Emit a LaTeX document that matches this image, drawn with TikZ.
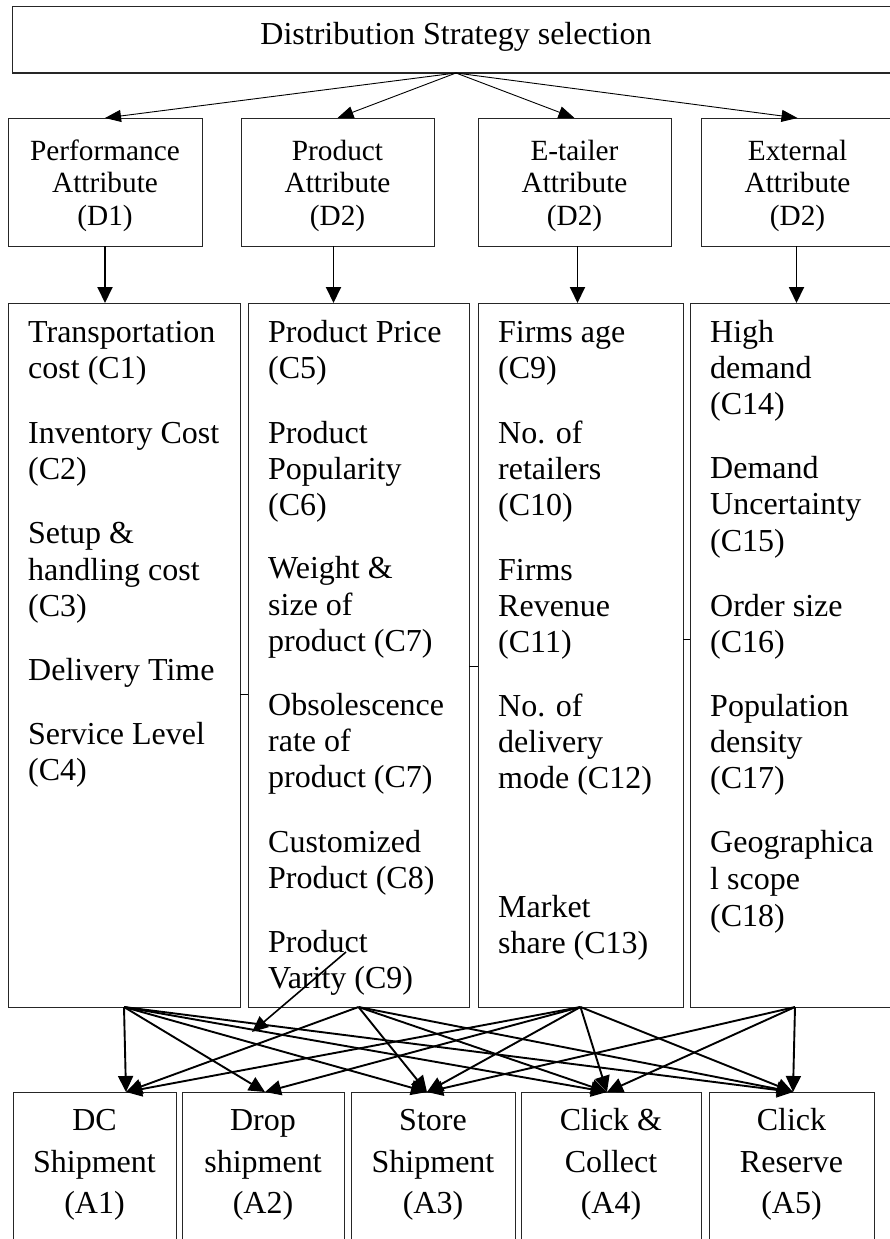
\documentclass[tikz,border=0pt]{standalone}
\usepackage{fontspec}
\setmainfont{Liberation Serif}
\usetikzlibrary{arrows.meta}
\begin{document}
\begin{tikzpicture}[x=1pt,y=-1pt,
  box/.style={draw=black!85, line width=1pt, inner sep=0pt, outer sep=0pt},
  ctext/.style={inner sep=0pt, anchor=base west, font=\fontsize{32}{36}\selectfont},
  dtext/.style={inner sep=0pt, anchor=base, font=\fontsize{29.3}{32}\selectfont},
  atext/.style={inner sep=0pt, anchor=base, font=\fontsize{32}{36}\selectfont},
  thinarrow/.style={line width=0.9pt, -{Triangle[length=16pt,width=12pt]}},
  thickarrow/.style={line width=1.9pt, -{Triangle[length=16pt,width=15pt]}}
]
\useasboundingbox (0,0) rectangle (890,1239);
\fill[white] (0,0) rectangle (890,1239);

% goal
\node[box, minimum width=888pt, minimum height=66pt] (goal) at (456,40) {};
\node[inner sep=0pt, anchor=base, font=\fontsize{32}{36}\selectfont] (goaltxt) at (456,45) {Distribution Strategy selection};

% dimensions
\node[box, minimum width=194pt, minimum height=128pt] (D1) at (105,182) {};
\node[box, minimum width=193pt, minimum height=128pt] (D2) at (337.5,182) {};
\node[box, minimum width=193pt, minimum height=128pt] (D3) at (574.5,182) {};
\node[box, minimum width=193pt, minimum height=128pt] (D4) at (797.5,182) {};

\foreach \x/\a/\b/\c [count=\i] in {105/Performance/Attribute/(D1), 337.5/Product/Attribute/(D2), 574.5/E-tailer/Attribute/(D2), 797.5/External/Attribute/(D2)}{
  \node[dtext] (dta\i) at (\x,160) {\a};
  \node[dtext] (dtb\i) at (\x,192.5) {\b};
  \node[dtext] (dtc\i) at (\x,225) {\c};
}

% criteria columns
\node[box, minimum width=232pt, minimum height=704pt] (C1) at (124,655) {};
\node[box, minimum width=221pt, minimum height=704pt] (C2) at (358.5,655) {};
\node[box, minimum width=205pt, minimum height=704pt] (C3) at (580.5,655) {};
\node[box, minimum width=210pt, minimum height=704pt] (C4) at (795,655) {};

\foreach \y/\t [count=\i] in {342/Transportation, 378/cost (C1), 443/Inventory Cost, 479/(C2), 543/Setup \&, 580/handling cost, 616/(C3), 680/Delivery Time, 744/Service Level, 780/(C4)}
  \node[ctext] (ca\i) at (28,\y) {\t};

\foreach \y/\t [count=\i] in {342/Product Price, 378/(C5), 443/Product, 479/Popularity, 515/(C6), 578/Weight \&, 615/size of, 651/product (C7), 715/Obsolescence, 751/rate of, 787/product (C7), 852/Customized, 888/Product (C8), 952/Product, 988/Varity (C9)}
  \node[ctext] (cb\i) at (268,\y) {\t};

\foreach \y/\t [count=\i] in {342/Firms age, 378/(C9), 443/No. of, 479/retailers, 515/(C10), 580/Firms, 616/Revenue, 652/(C11), 716/No. of, 752/delivery, 788/mode (C12), 917/Market, 953/share (C13)}
  \node[ctext] (cc\i) at (498,\y) {\t};

\foreach \y/\t [count=\i] in {342/High, 378/demand, 414/(C14), 478/Demand, 514/Uncertainty, 551/(C15), 616/Order size, 652/(C16), 716/Population, 752/density, 788/(C17), 852/Geographica, 889/l scope, 926/(C18)}
  \node[ctext] (cd\i) at (710,\y) {\t};

% alternatives
\node[box, minimum width=163pt, minimum height=158pt] (A1) at (94.5,1171) {};
\node[box, minimum width=162pt, minimum height=158pt] (A2) at (263,1171) {};
\node[box, minimum width=164pt, minimum height=158pt] (A3) at (433,1171) {};
\node[box, minimum width=180pt, minimum height=158pt] (A4) at (611,1171) {};
\node[box, minimum width=165pt, minimum height=158pt] (A5) at (791.5,1171) {};

\foreach \x/\a/\b/\c [count=\i] in {94.5/DC/Shipment/(A1), 263/Drop/shipment/(A2), 433/Store/Shipment/(A3), 611/Click \&/Collect/(A4), 791.5/Click/Reserve/(A5)}{
  \node[atext] (ata\i) at (\x,1130) {\a};
  \node[atext] (atb\i) at (\x,1172) {\b};
  \node[atext] (atc\i) at (\x,1213) {\c};
}

% goal to dimensions
\foreach \d in {D1,D2,D3,D4}
  \draw[thinarrow] (goal.south) -- (\d.north);

% dimensions to criteria
\draw[thickarrow] (D1.south) -- (D1.south |- C1.north);
\draw[thickarrow] ([xshift=-4pt]D2.south) -- ([xshift=-4pt]D2.south |- C2.north);
\draw[thickarrow] ([xshift=3pt]D3.south) -- ([xshift=3pt]D3.south |- C3.north);
\draw[thickarrow] ([xshift=-1pt]D4.south) -- ([xshift=-1pt]D4.south |- C4.north);

% entry points on the alternatives
\coordinate (A1in) at (126,1092);
\coordinate (A2in) at (265,1092);
\coordinate (A3in) at (427,1092);
\coordinate (A4in) at (607,1092);
\coordinate (A5in) at (793,1092);

% criteria to alternatives
\foreach \a in {A1in,A2in,A3in,A4in,A5in} \draw[thickarrow] (C1.south) -- (\a);
\foreach \a in {A1in,A3in,A4in,A5in} \draw[thickarrow] (C2.south) -- (\a);
\foreach \a in {A1in,A2in,A3in,A4in,A5in} \draw[thickarrow] (C3.south) -- (\a);
\foreach \a in {A3in,A4in,A5in} \draw[thickarrow] (C4.south) -- (\a);

% loose arrow crossing the product column
\coordinate (looseStart) at (346,952);
\coordinate (looseEnd) at (252,1032);
\draw[line width=1.6pt, -{Triangle[length=16pt,width=14pt]}] (looseStart) -- (looseEnd);

% short stubs between the columns
\draw[line width=1pt] (C1.east |- 0,694) -- (C2.west |- 0,694);
\draw[line width=1pt] (C2.east |- 0,666) -- (C3.west |- 0,666);
\draw[line width=1pt] (C3.east |- 0,639) -- (C4.west |- 0,639);
\end{tikzpicture}
\end{document}
